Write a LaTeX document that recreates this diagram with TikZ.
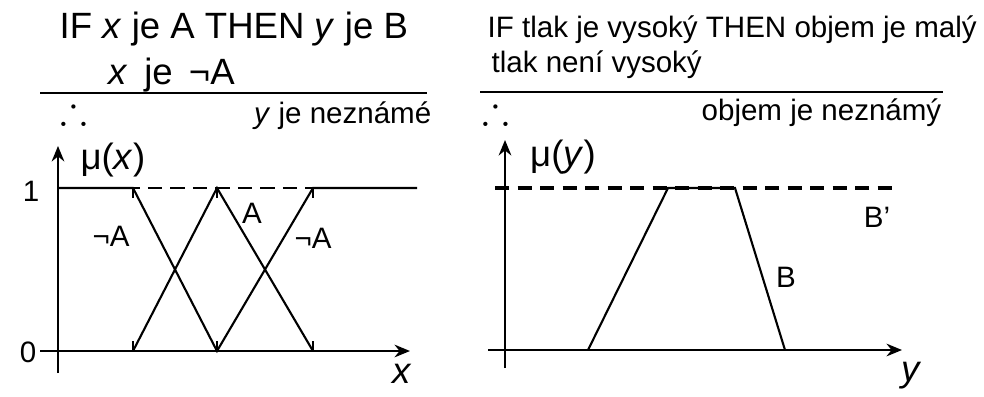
\documentclass[tikz,border=0pt]{standalone}
\usepackage{fontspec}
\usepackage{amssymb}
\setmainfont{Liberation Sans}
\usetikzlibrary{arrows.meta}
\begin{document}
\begin{tikzpicture}[x=0.025cm,y=-0.025cm,every node/.style={font=\fontsize{21}{24}\selectfont,inner sep=1pt},
  head/.style={font=\fontsize{26}{28}\selectfont},
  headr/.style={font=\fontsize{21}{24}\selectfont},
  axis/.style={line width=1.6pt,-{Stealth[length=11pt,width=9pt]}},
  rule/.style={line width=1.5pt},
  level/.style={line width=1.7pt,dash pattern=on 10pt off 6pt},
  mf/.style={line width=1.5pt}, tick/.style={line width=1.2pt}]
\useasboundingbox (0,0) rectangle (984,396);
% rules
\node[head,anchor=west] (ifA) at (58,29) {IF \textit{x} je A THEN \textit{y} je B};
\node[head,anchor=west] (notA) at (107,75) {\textit{x}\,\ je\,\ ¬A};
\coordinate (rl1) at (40,93); \coordinate (rl2) at (427,93); \draw[rule] (rl1) -- (rl2);
\node[head] (so1) at (74,110) {\scalebox{1.1}{$\therefore$}}; \node[headr,anchor=east] (res1) at (433,116) {\textit{y} je neznámé};
\node[headr,anchor=west] (ifT) at (486,30) {IF tlak je vysoký THEN objem je malý};
\node[headr,anchor=west] (notT) at (490,65) {tlak není vysoký};
\coordinate (rr1) at (480,92); \coordinate (rr2) at (943,92); \draw[rule] (rr1) -- (rr2);
\node[head] (so2) at (496,110) {\scalebox{1.1}{$\therefore$}}; \node[headr,anchor=east] (res2) at (943,113) {objem je neznámý};
% mu(x)
\coordinate (xa0) at (58,373); \coordinate (xa1) at (58,146); \coordinate (xb0) at (40,351); \coordinate (xb1) at (410,351);
\draw[axis] (xa0) -- (xa1); \draw[axis] (xb0) -- (xb1);
\coordinate (p0) at (58,188); \coordinate (p1) at (133,188); \coordinate (p2) at (217,188); \coordinate (p3) at (313,188); \coordinate (p4) at (417,188);
\coordinate (q1) at (133,351); \coordinate (q2) at (217,351); \coordinate (q3) at (313,351);
\draw[level] (p0) -- (p4);
\draw[mf] (p0) -- (p1) -- (q2) -- (p3) -- (p4); \draw[mf] (q1) -- (p2) -- (q3);
\foreach \k in {1,2,3} {\draw[tick] (p\k) -- ++(0,10); \draw[tick] (q\k) -- ++(0,-10);}
\node (one1) at (31,191) {1}; \node (zero1) at (28,352) {0};
\node[head] (mux) at (113,160) {μ(\textit{x})}; \node[head] (xlab) at (402,374) {\textit{x}};
\node (nA1) at (111,236) {¬A}; \node (lA) at (252,213) {A}; \node (nA2) at (313,238) {¬A};
% mu(y)
\coordinate (ya0) at (505,368); \coordinate (ya1) at (505,140); \coordinate (yb0) at (488,350); \coordinate (yb1) at (902,350);
\draw[axis] (ya0) -- (ya1); \draw[axis] (yb0) -- (yb1);
\coordinate (s0) at (495,188); \coordinate (s1) at (895,188);
\draw[level,line width=2.2pt] (s0) -- (s1);
\coordinate (t1) at (588,350); \coordinate (t2) at (668,188); \coordinate (t3) at (735,188); \coordinate (t4) at (785,350);
\draw[mf] (t1) -- (t2) -- (t3) -- (t4);
\node[head] (muy) at (563,157) {μ(\textit{y})}; \node[head] (ylab) at (912,376) {\textit{y}};
\node (lBp) at (877,217) {B’}; \node (lB) at (786,277) {B};
\end{tikzpicture}
\end{document}
